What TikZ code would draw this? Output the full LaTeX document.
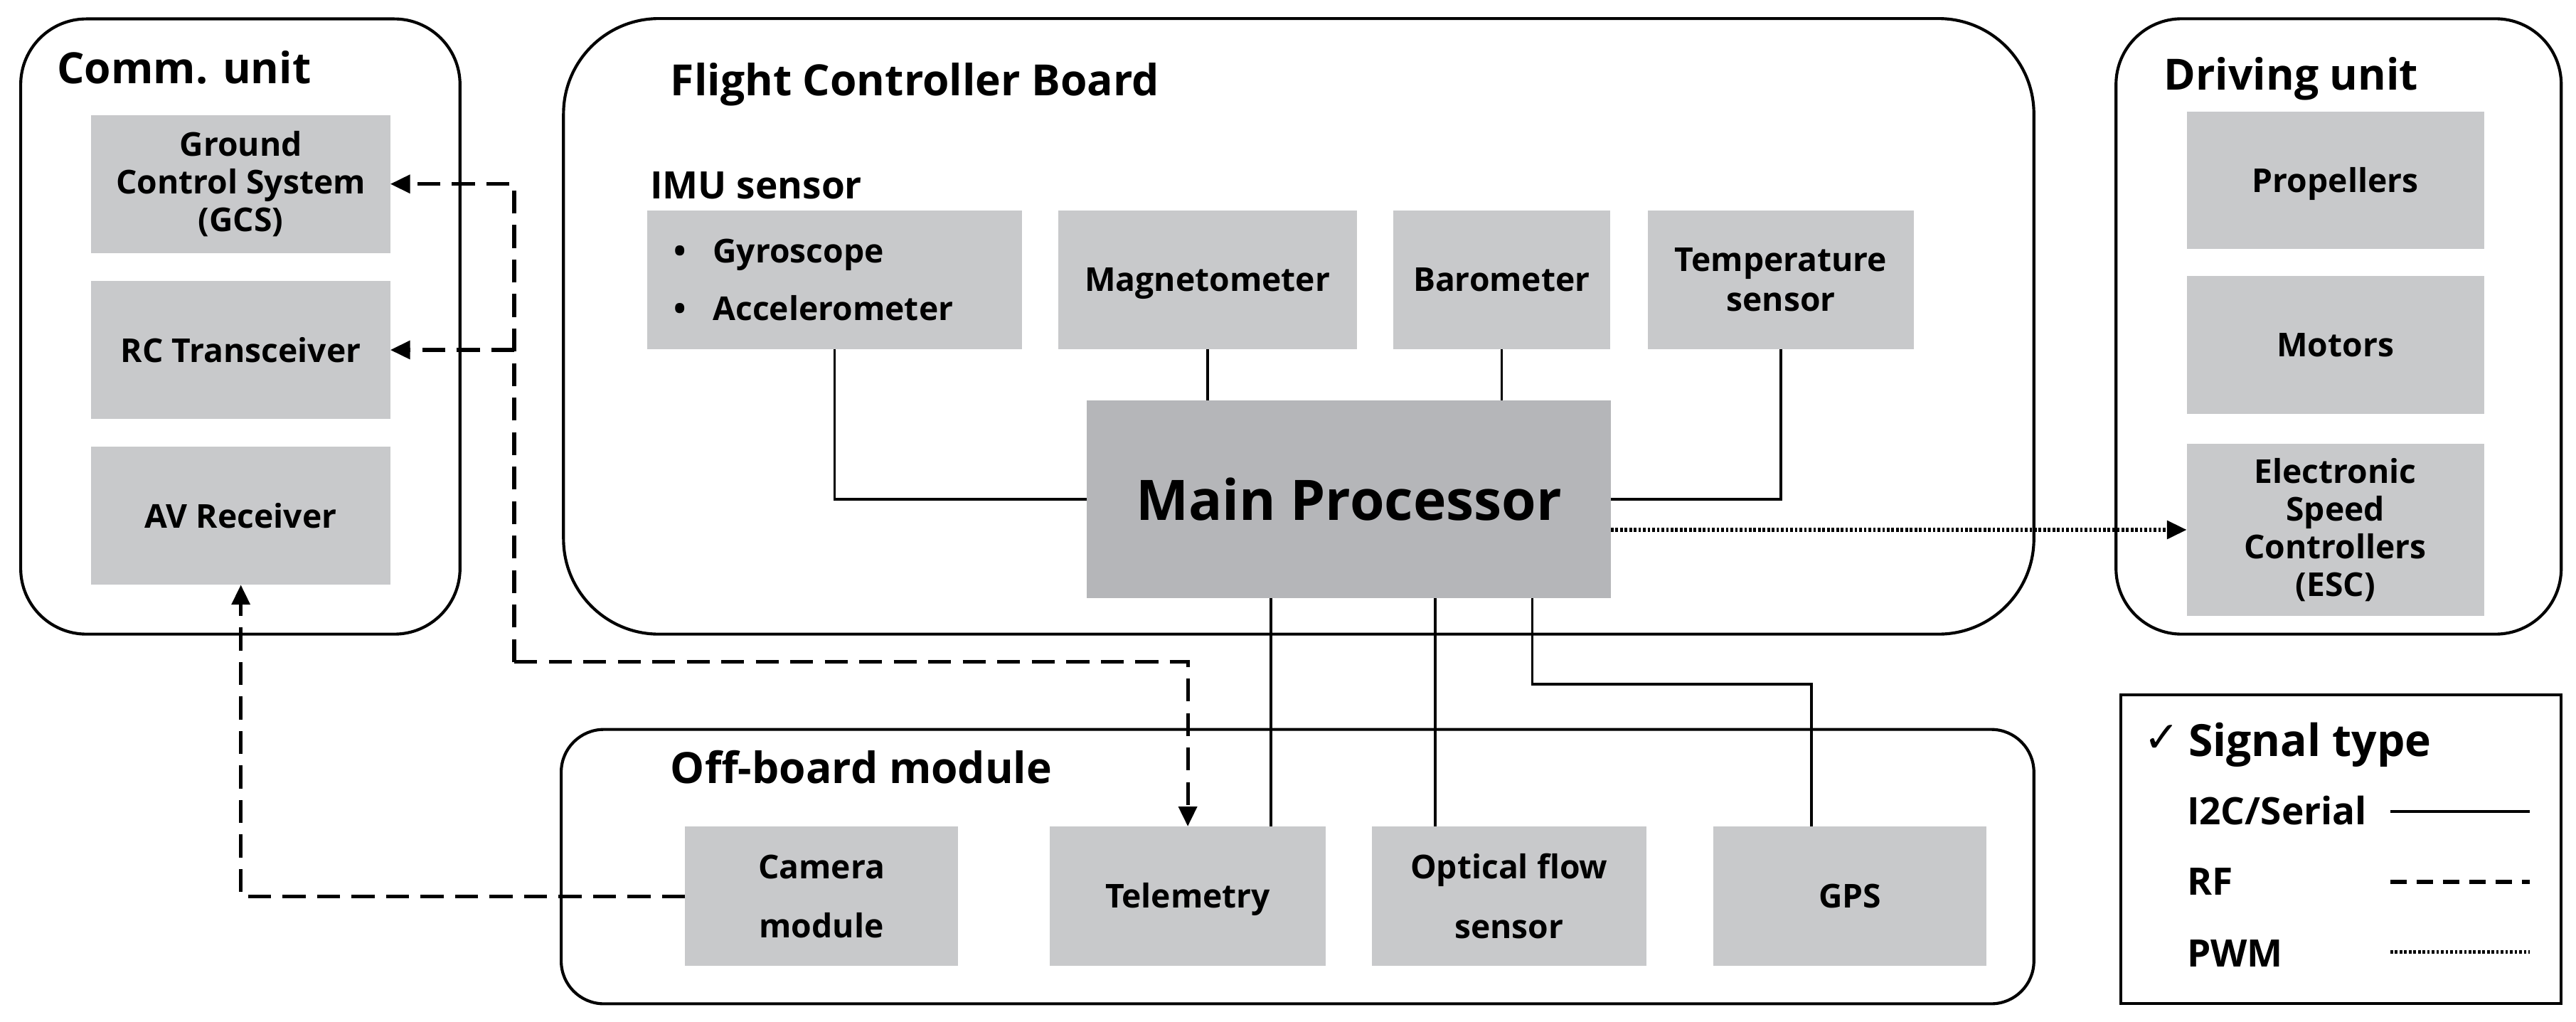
\documentclass[tikz,border=0pt]{standalone}
\usepackage{fontspec}
\setmainfont{Open Sans}
\newfontfamily\checkfont{DejaVu Sans}
\usepackage{tikz}
\usetikzlibrary{positioning,arrows.meta,calc}

\definecolor{boxgray}{RGB}{200,201,203}
\definecolor{procgray}{RGB}{181,182,185}

\begin{document}
\begin{tikzpicture}[x=1pt, y=-1pt, node distance={17pt},
    unit/.style = {draw, line width=1.8pt, rounded corners=40pt, inner sep=0pt},
    block/.style = {fill=boxgray, inner sep=0pt, outer sep=0pt, minimum height=84pt, align=center,
        font=\bfseries\fontsize{20}{23}\selectfont},
    capmid/.style = {text height=14.3pt, text depth=0pt},
    ttl/.style = {inner sep=0pt, anchor=base west, font=\bfseries\fontsize{26.2}{30}\selectfont},
    lgd/.style = {inner sep=0pt, anchor=base west, font=\bfseries\fontsize{23}{26}\selectfont},
    serial/.style = {line width=1.5pt},
    rf/.style = {line width=2.2pt, dash pattern=on 14pt off 7pt},
    pwm/.style = {line width=2.2pt, dash pattern=on 1.6pt off 1.2pt},
    tip/.style = {-{Triangle[length=12pt,width=11pt]}}]
    \useasboundingbox (0,0) rectangle (1568,621.7);

    % containers
    \node[unit, minimum width=267.4pt, minimum height=374.5pt] (comm) at (146.3,198.75) {};
    \node[unit, rounded corners=58pt, minimum width=895pt, minimum height=374.7pt] (fcb) at (790.5,198.65) {};
    \node[unit, minimum width=271pt, minimum height=374.6pt] (drive) at (1423.5,198.7) {};
    \node[unit, rounded corners=26pt, minimum width=896.4pt, minimum height=167pt] (offb) at (789.8,527.5) {};
    \node[draw, line width=1.8pt, minimum width=268pt, minimum height=188pt, inner sep=0pt] (legend) at (1425,517) {};

    \node[ttl] (commttl) at (34.5,51) {Comm. unit};
    \node[ttl] (fcbttl) at (408,58.4) {Flight Controller Board};
    \node[ttl] (drivettl) at (1317,54.6) {Driving unit};
    \node[ttl] (offbttl) at (408,477) {Off-board module};
    \node[ttl, font=\bfseries\fontsize{23}{26}\selectfont] (imuttl) at (395.6,121) {IMU sensor};

    % comm. unit
    \node[block, minimum width=182pt] (gcs) at (146.6,112) {Ground\\Control System\\(GCS)};
    \node[block, minimum width=182pt] (rc) [below=of gcs] {RC Transceiver};
    \node[block, minimum width=182pt] (av) [below=of rc] {AV Receiver};

    % flight controller board
    \node[block, minimum width=228pt, minimum height=84.5pt, text width=196pt, align=left,
        font=\bfseries\fontsize{20}{35}\selectfont] (imu) at (508,170.25)
        {\makebox[24pt][l]{\textbullet}Gyroscope\\\makebox[24pt][l]{\textbullet}Accelerometer};
    \node[block, capmid, minimum width=182pt, minimum height=84.5pt] (mag) at (735,170.25) {Magnetometer};
    \node[block, minimum width=132pt, minimum height=84.5pt] (baro) at (914,170.25) {Barometer};
    \node[block, minimum width=162pt, minimum height=84.5pt, font=\bfseries\fontsize{20}{24}\selectfont] (temp) at (1084,170.25) {Temperature\\sensor};
    \node[block, fill=procgray, minimum width=319pt, minimum height=120.4pt,
        font=\bfseries\fontsize{34}{40}\selectfont] (main) at (821,303.8) {Main Processor};

    % driving unit
    \node[block, capmid, minimum width=181pt, minimum height=83.6pt] (prop) at (1421.5,109.8) {Propellers};
    \node[block, minimum width=181pt] (motor) at (1421.5,210) {Motors};
    \node[block, minimum width=181pt, minimum height=105pt] (esc) at (1421.5,322.5) {Electronic\\Speed\\Controllers\\(ESC)};

    % off-board module
    \node[block, minimum width=166pt, minimum height=85pt, font=\bfseries\fontsize{20}{36}\selectfont] (cam) at (500,545.5) {Camera\\module};
    \node[block, capmid, minimum width=168pt, minimum height=85pt] (tel) at (723,545.5) {Telemetry};
    \node[block, minimum width=167pt, minimum height=85pt, font=\bfseries\fontsize{20}{36}\selectfont] (flow) at (918.5,545.5) {Optical flow\\sensor};
    \node[block, minimum width=166pt, minimum height=85pt] (gps) at (1126,545.5) {GPS};

    % I2C/Serial
    \draw[serial] (imu.south) |- (main.west);
    \draw[serial] (mag.south) -- (mag.south |- main.north);
    \draw[serial] (baro.south) -- (baro.south |- main.north);
    \draw[serial] (temp.south) |- (main.east);
    \draw[serial] ([xshift=50.6pt]tel.north) -- ([xshift=50.6pt]tel.north |- main.south);
    \draw[serial] ([xshift=-44.9pt]flow.north) -- ([xshift=-44.9pt]flow.north |- main.south);
    \draw[serial] ([xshift=111.6pt]main.south) -- ++(0,52.5) -| ([xshift=-23.4pt]gps.north);

    % RF
    \coordinate (rfbend) at (313,403);
    \draw[rf, tip] (rfbend) |- (gcs.east);
    \draw[rf, tip] (rfbend |- rc.east) -- (rc.east);
    \draw[rf, tip] (rfbend) -| (tel.north);
    \draw[rf, tip] (cam.west) -| (av.south);

    % PWM
    \draw[pwm, tip] (main.east |- esc.west) -- (esc.west);

    % legend
    \node[inner sep=0pt, anchor=base west, font=\checkfont\fontsize{26}{28}\selectfont] (chk) at (1305,458) {✓};
    \node[ttl, font=\bfseries\fontsize{27}{30}\selectfont] (sigttl) at (1332,460.5) {Signal type};
    \node[lgd] (l1) at (1331,502) {I2C/Serial};
    \node[lgd] (l2) at (1331,545) {RF};
    \node[lgd] (l3) at (1331,588.7) {PWM};
    \draw[serial] (1455,494) -- (1540,494);
    \draw[rf, dash pattern=on 10pt off 6pt] (1455,536.8) -- (1540,536.8);
    \draw[pwm] (1455,579.5) -- (1540,579.5);
\end{tikzpicture}
\end{document}
